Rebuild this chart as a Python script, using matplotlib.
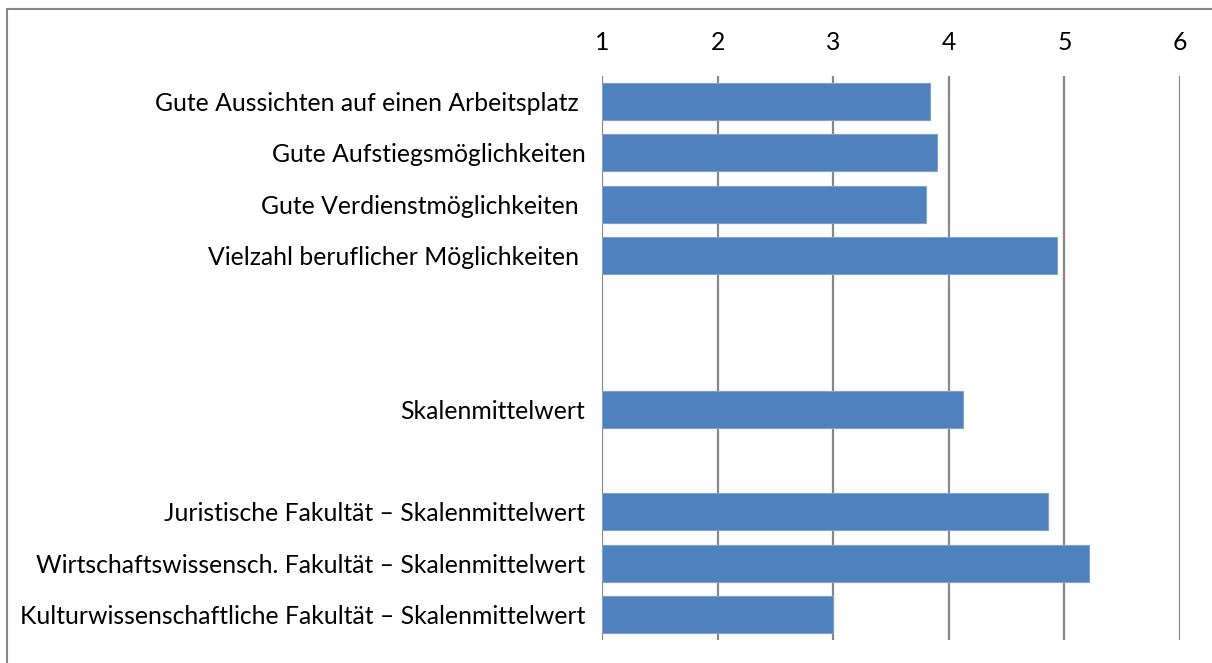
import matplotlib
matplotlib.use("Agg")
import matplotlib.pyplot as plt
import numpy as np
from matplotlib.patches import Rectangle

categories = [
    "Gute Aussichten auf einen Arbeitsplatz ",
    "Gute Aufstiegsmöglichkeiten",
    "Gute Verdienstmöglichkeiten ",
    "Vielzahl beruflicher Möglichkeiten ",
    "",
    "",
    "Skalenmittelwert",
    "",
    "Juristische Fakultät – Skalenmittelwert",
    "Wirtschaftswissensch. Fakultät – Skalenmittelwert",
    "Kulturwissenschaftliche Fakultät – Skalenmittelwert",
]
values = [3.84, 3.90, 3.80, 4.94, np.nan, np.nan, 4.12, np.nan, 4.86, 5.21, 3.00]
x_ticks = [1, 2, 3, 4, 5, 6]

plt.rcParams['font.family'] = ['Lato', 'DejaVu Sans']

W, H = 1212, 663
fig = plt.figure(figsize=(W / 100, H / 100), dpi=100)
fig.patches.append(Rectangle((7 / W, -0.1), 1.2, (H - 9) / H + 0.1, transform=fig.transFigure,
                             fill=False, edgecolor='#888888', linewidth=1.5))

left, right, top, bottom = 602, 1180, 76, 640
ax = fig.add_axes([left / W, 1 - bottom / H, (right - left) / W, (bottom - top) / H])

n = len(categories)
ypos = np.arange(n)
base = 1.0
vals = np.array(values, dtype=float)
mask = ~np.isnan(vals)
ax.barh(ypos[mask], vals[mask] - base, left=base, height=0.72, color='#4F81BD',
        edgecolor='#7FA2D0', linewidth=0.8, zorder=3)

ax.set_xlim(1, 6)
ax.set_ylim(n - 0.5, -0.5)
for x in x_ticks:
    ax.axvline(x, color='#878787', linewidth=1.6, zorder=2)

ax.xaxis.tick_top()
ax.set_xticks(x_ticks)
ax.set_xticklabels([str(t) for t in x_ticks], fontsize=17.8)
ax.tick_params(axis='x', length=0, pad=16)
ax.set_yticks(ypos)
ax.set_yticklabels(categories, fontsize=17.8)
ax.tick_params(axis='y', length=0, pad=12)
for s in ax.spines.values():
    s.set_visible(False)

fig.savefig("out.png", dpi=100)
